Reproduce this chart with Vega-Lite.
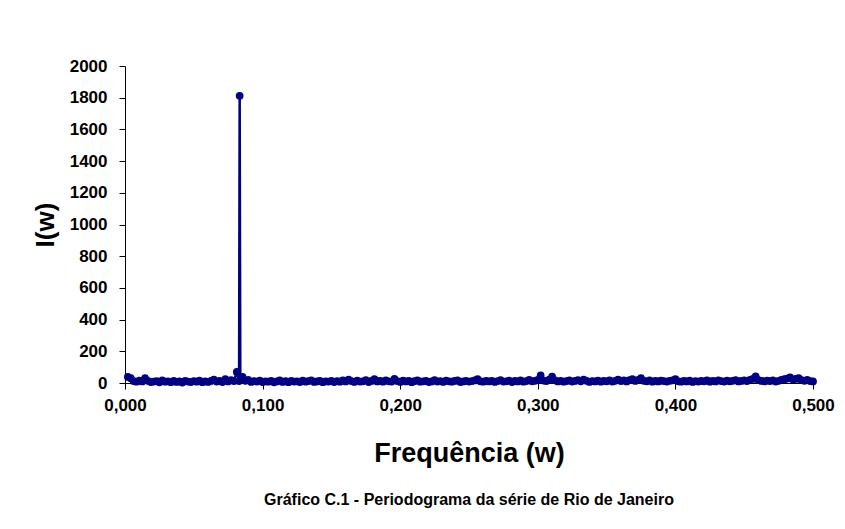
{
  "$schema": "https://vega.github.io/schema/vega-lite/v6.json",
  "width": 688,
  "height": 317,
  "autosize": "none",
  "padding": {"left": 125, "top": 66, "right": 32, "bottom": 146},
  "background": "white",
  "title": {
    "text": "Gráfico C.1 - Periodograma da série de Rio de Janeiro",
    "orient": "bottom",
    "anchor": "middle",
    "font": "Liberation Sans",
    "fontSize": 16,
    "fontWeight": "bold",
    "color": "black",
    "offset": 26
  },
  "data": {
    "values": [
      {"w":0.00208,"I":38},{"w":0.00417,"I":30},{"w":0.00625,"I":12},{"w":0.00833,"I":8},{"w":0.01042,"I":15},{"w":0.0125,"I":10},{"w":0.01458,"I":30},{"w":0.01667,"I":14},{"w":0.01875,"I":6},{"w":0.02083,"I":9},{"w":0.02292,"I":12},{"w":0.025,"I":4},{"w":0.02708,"I":16},{"w":0.02917,"I":8},{"w":0.03125,"I":11},{"w":0.03333,"I":5},{"w":0.03542,"I":13},{"w":0.0375,"I":7},{"w":0.03958,"I":10},{"w":0.04167,"I":3},{"w":0.04375,"I":14},{"w":0.04583,"I":9},{"w":0.04792,"I":6},{"w":0.05,"I":12},
      {"w":0.05208,"I":8},{"w":0.05417,"I":15},{"w":0.05625,"I":5},{"w":0.05833,"I":11},{"w":0.06042,"I":7},{"w":0.0625,"I":13},{"w":0.06458,"I":22},{"w":0.06667,"I":9},{"w":0.06875,"I":14},{"w":0.07083,"I":6},{"w":0.07292,"I":25},{"w":0.075,"I":10},{"w":0.07708,"I":18},{"w":0.07917,"I":12},{"w":0.08125,"I":70},{"w":0.0829,"I":12},{"w":0.08333,"I":1812},{"w":0.0838,"I":22},{"w":0.08542,"I":38},{"w":0.0875,"I":14},{"w":0.08958,"I":20},{"w":0.09167,"I":7},{"w":0.09375,"I":12},{"w":0.09583,"I":9},{"w":0.09792,"I":15},{"w":0.1,"I":6},
      {"w":0.10208,"I":11},{"w":0.10417,"I":8},{"w":0.10625,"I":13},{"w":0.10833,"I":4},{"w":0.11042,"I":10},{"w":0.1125,"I":16},{"w":0.11458,"I":7},{"w":0.11667,"I":12},{"w":0.11875,"I":5},{"w":0.12083,"I":14},{"w":0.12292,"I":9},{"w":0.125,"I":11},{"w":0.12708,"I":6},{"w":0.12917,"I":15},{"w":0.13125,"I":8},{"w":0.13333,"I":12},{"w":0.13542,"I":17},{"w":0.1375,"I":7},{"w":0.13958,"I":10},{"w":0.14167,"I":13},{"w":0.14375,"I":5},{"w":0.14583,"I":11},{"w":0.14792,"I":9},{"w":0.15,"I":14},
      {"w":0.15208,"I":6},{"w":0.15417,"I":12},{"w":0.15625,"I":8},{"w":0.15833,"I":16},{"w":0.16042,"I":10},{"w":0.1625,"I":22},{"w":0.16458,"I":12},{"w":0.16667,"I":7},{"w":0.16875,"I":15},{"w":0.17083,"I":9},{"w":0.17292,"I":11},{"w":0.175,"I":18},{"w":0.17708,"I":6},{"w":0.17917,"I":13},{"w":0.18125,"I":25},{"w":0.18333,"I":10},{"w":0.18542,"I":14},{"w":0.1875,"I":8},{"w":0.18958,"I":17},{"w":0.19167,"I":11},{"w":0.19375,"I":9},{"w":0.19583,"I":26},{"w":0.19792,"I":12},{"w":0.2,"I":7},
      {"w":0.20208,"I":15},{"w":0.20417,"I":10},{"w":0.20625,"I":13},{"w":0.20833,"I":5},{"w":0.21042,"I":12},{"w":0.2125,"I":16},{"w":0.21458,"I":8},{"w":0.21667,"I":11},{"w":0.21875,"I":14},{"w":0.22083,"I":6},{"w":0.22292,"I":10},{"w":0.225,"I":18},{"w":0.22708,"I":9},{"w":0.22917,"I":12},{"w":0.23125,"I":7},{"w":0.23333,"I":15},{"w":0.23542,"I":11},{"w":0.2375,"I":8},{"w":0.23958,"I":13},{"w":0.24167,"I":17},{"w":0.24375,"I":6},{"w":0.24583,"I":10},{"w":0.24792,"I":14},{"w":0.25,"I":9},
      {"w":0.25208,"I":12},{"w":0.25417,"I":16},{"w":0.25625,"I":25},{"w":0.25833,"I":11},{"w":0.26042,"I":8},{"w":0.2625,"I":14},{"w":0.26458,"I":10},{"w":0.26667,"I":13},{"w":0.26875,"I":7},{"w":0.27083,"I":12},{"w":0.27292,"I":18},{"w":0.275,"I":9},{"w":0.27708,"I":11},{"w":0.27917,"I":15},{"w":0.28125,"I":6},{"w":0.28333,"I":13},{"w":0.28542,"I":10},{"w":0.2875,"I":16},{"w":0.28958,"I":8},{"w":0.29167,"I":12},{"w":0.29375,"I":19},{"w":0.29583,"I":11},{"w":0.29792,"I":14},{"w":0.3,"I":20},
      {"w":0.30208,"I":48},{"w":0.30417,"I":15},{"w":0.30625,"I":12},{"w":0.30833,"I":22},{"w":0.31042,"I":40},{"w":0.3125,"I":17},{"w":0.31458,"I":10},{"w":0.31667,"I":14},{"w":0.31875,"I":8},{"w":0.32083,"I":12},{"w":0.32292,"I":16},{"w":0.325,"I":9},{"w":0.32708,"I":13},{"w":0.32917,"I":18},{"w":0.33125,"I":11},{"w":0.33333,"I":22},{"w":0.33542,"I":14},{"w":0.3375,"I":7},{"w":0.33958,"I":12},{"w":0.34167,"I":10},{"w":0.34375,"I":15},{"w":0.34583,"I":8},{"w":0.34792,"I":13},{"w":0.35,"I":11},
      {"w":0.35208,"I":17},{"w":0.35417,"I":9},{"w":0.35625,"I":14},{"w":0.35833,"I":22},{"w":0.36042,"I":12},{"w":0.3625,"I":16},{"w":0.36458,"I":10},{"w":0.36667,"I":18},{"w":0.36875,"I":25},{"w":0.37083,"I":13},{"w":0.37292,"I":20},{"w":0.375,"I":30},{"w":0.37708,"I":14},{"w":0.37917,"I":11},{"w":0.38125,"I":16},{"w":0.38333,"I":8},{"w":0.38542,"I":13},{"w":0.3875,"I":10},{"w":0.38958,"I":15},{"w":0.39167,"I":12},{"w":0.39375,"I":9},{"w":0.39583,"I":14},{"w":0.39792,"I":17},{"w":0.4,"I":24},
      {"w":0.40208,"I":11},{"w":0.40417,"I":8},{"w":0.40625,"I":13},{"w":0.40833,"I":10},{"w":0.41042,"I":15},{"w":0.4125,"I":7},{"w":0.41458,"I":12},{"w":0.41667,"I":9},{"w":0.41875,"I":14},{"w":0.42083,"I":11},{"w":0.42292,"I":16},{"w":0.425,"I":8},{"w":0.42708,"I":13},{"w":0.42917,"I":10},{"w":0.43125,"I":17},{"w":0.43333,"I":12},{"w":0.43542,"I":9},{"w":0.4375,"I":15},{"w":0.43958,"I":11},{"w":0.44167,"I":14},{"w":0.44375,"I":18},{"w":0.44583,"I":10},{"w":0.44792,"I":13},{"w":0.45,"I":16},
      {"w":0.45208,"I":12},{"w":0.45417,"I":20},{"w":0.45625,"I":26},{"w":0.45833,"I":42},{"w":0.46042,"I":18},{"w":0.4625,"I":13},{"w":0.46458,"I":10},{"w":0.46667,"I":15},{"w":0.46875,"I":12},{"w":0.47083,"I":17},{"w":0.47292,"I":9},{"w":0.475,"I":14},{"w":0.47708,"I":20},{"w":0.47917,"I":24},{"w":0.48125,"I":28},{"w":0.48333,"I":35},{"w":0.48542,"I":22},{"w":0.4875,"I":26},{"w":0.48958,"I":30},{"w":0.49167,"I":18},{"w":0.49375,"I":14},{"w":0.49583,"I":20},{"w":0.49792,"I":12},{"w":0.5,"I":10}
    ]
  },
  "mark": {
    "type": "line",
    "color": "#000080",
    "strokeWidth": 2.5,
    "point": {"filled": true, "size": 60, "color": "#000080", "opacity": 1}
  },
  "encoding": {
    "x": {
      "field": "w",
      "type": "quantitative",
      "scale": {"domain": [0, 0.5], "nice": false, "zero": true},
      "axis": {
        "values": [0, 0.1, 0.2, 0.3, 0.4, 0.5],
        "labelExpr": "replace(format(datum.value, '.3f'), '.', ',')",
        "labelFlush": false,
        "labelOverlap": false,
        "title": "Frequência (w)",
        "titleFontSize": 27,
        "titlePadding": 27,
        "labelPadding": 8,
        "labelFontSize": 17
      }
    },
    "y": {
      "field": "I",
      "type": "quantitative",
      "scale": {"domain": [0, 2000], "nice": false},
      "axis": {
        "values": [0, 200, 400, 600, 800, 1000, 1200, 1400, 1600, 1800, 2000],
        "format": "d",
        "labelFlush": false,
        "labelOverlap": false,
        "title": "I(w)",
        "titleFontSize": 26,
        "titlePadding": 11,
        "labelPadding": 12,
        "labelFontSize": 17
      }
    }
  },
  "config": {
    "view": {"stroke": null},
    "font": "Liberation Sans",
    "axis": {
      "grid": false,
      "domainColor": "black",
      "domainWidth": 1,
      "tickColor": "black",
      "tickSize": 6,
      "labelFont": "Liberation Sans",
      "labelFontWeight": "bold",
      "labelColor": "black",
      "titleFont": "Liberation Sans",
      "titleFontWeight": "bold",
      "titleColor": "black"
    }
  }
}
